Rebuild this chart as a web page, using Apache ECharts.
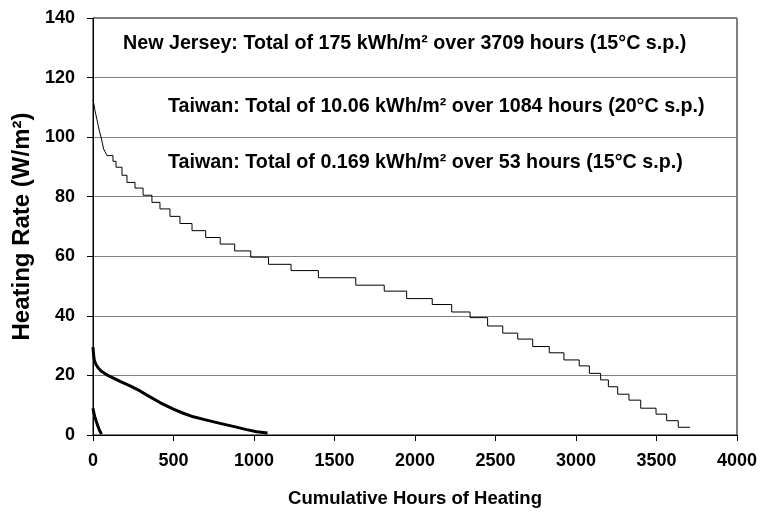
<!DOCTYPE html>
<html>
<head>
<meta charset="utf-8">
<script src="https://cdn.jsdelivr.net/npm/echarts@6/dist/echarts.min.js"></script>
<style>
html,body{margin:0;padding:0;background:#fff;}
#chart{width:763px;height:513px;}
</style>
</head>
<body>
<div id="chart"></div>
<script>
// Data (hours, heating rate W/m²)
var newJersey = [
  [0,112.5],[6,111],[12,109],[18,107.5],[24,106],[32,104],[40,102],[50,100],[58,98],[66,96],[76,95],
  [87,93.8],[124,91.9],[143,89.9],[180,87.2],[211,84.8],[261,82.9],[311,80.5],[366,78.1],[416,75.9],
  [478,73.4],[540,71],[615,68.6],[700,66.3],[790,64.1],[880,61.8],[980,59.7],[1090,57.3],[1230,55.2],
  [1400,52.8],[1632,50.3],[1809,48.3],[1948,45.8],[2107,43.8],[2228,41.3],[2342,39.4],[2451,36.6],
  [2545,34.2],[2638,32.2],[2731,29.7],[2834,27.6],[2925,25.2],[3020,23.2],[3083,20.7],[3153,18.5],
  [3201,16.2],[3259,13.7],[3329,11.7],[3402,9.0],[3497,7.0],[3563,4.8],[3635,2.6],[3709,2.6]
];
var taiwan20 = [
  [0,29.5],[3,27.5],[7,25.5],[12,24.5],[20,23.5],[33,22.5],[50,21.5],[64,21],[95,19.9],[130,19.0],
  [168,18.0],[230,16.5],[292,14.8],[354,12.8],[416,10.9],[499,8.7],[561,7.3],[623,6.1],[706,5.0],
  [789,3.9],[871,2.9],[954,1.8],[1017,1.1],[1084,0.65]
];
var taiwan15 = [[0,9],[5,7.5],[12,6],[20,4.6],[30,3],[40,1.6],[53,0.3]];

var annotations = [
  'New Jersey: Total of 175 kWh/m² over 3709 hours (15°C s.p.)',
  'Taiwan: Total of 10.06 kWh/m² over 1084 hours (20°C s.p.)',
  'Taiwan: Total of 0.169 kWh/m² over 53 hours (15°C s.p.)'
];
var xName = 'Cumulative Hours of Heating';
var yName = 'Heating Rate (W/m²)';

var FONT = '"Liberation Sans", Arial, sans-serif';
var chart = echarts.init(document.getElementById('chart'), null, {renderer:'canvas'});
var annotPos = [[123,43.5],[168,107],[168,162.5]];
var option = {
  animation:false,
  backgroundColor:'#fff',
  grid:{left:93,right:26,top:18,bottom:77,show:true,borderColor:'#000',borderWidth:1,backgroundColor:'transparent'},
  xAxis:{
    type:'value',min:0,max:4000,interval:500,
    name:xName,nameLocation:'middle',nameGap:54,
    nameTextStyle:{fontFamily:FONT,fontWeight:'bold',fontSize:18.5,color:'#000'},
    axisLine:{show:true,lineStyle:{color:'#000',width:1}},
    axisTick:{show:true,inside:false,length:6,lineStyle:{color:'#000'}},
    axisLabel:{fontFamily:FONT,fontWeight:'bold',fontSize:18,color:'#000',margin:17,
      formatter:function(v){return String(v);}},
    splitLine:{show:false}
  },
  yAxis:{
    type:'value',min:0,max:140,interval:20,
    name:yName,nameLocation:'middle',nameGap:58,
    nameTextStyle:{fontFamily:FONT,fontWeight:'bold',fontSize:24,color:'#000'},
    axisLine:{show:true,lineStyle:{color:'#000',width:1}},
    axisTick:{show:true,inside:false,length:6,lineStyle:{color:'#000'}},
    axisLabel:{fontFamily:FONT,fontWeight:'bold',fontSize:18,color:'#000',margin:18},
    splitLine:{show:true,lineStyle:{color:'#808080',width:1}}
  },
  series:[
    {type:'line',name:'New Jersey',data:newJersey,step:'end',symbol:'none',
     lineStyle:{color:'#000',width:1},z:3},
    {type:'line',name:'Taiwan 20C',data:taiwan20,symbol:'none',
     lineStyle:{color:'#000',width:3},z:3},
    {type:'line',name:'Taiwan 15C',data:taiwan15,symbol:'none',
     lineStyle:{color:'#000',width:3},z:3}
  ],
  graphic: annotations.map(function(t,i){
    return {type:'text',x:annotPos[i][0],y:annotPos[i][1],z:10,
      style:{text:t,font:'bold 19.7px '+FONT,fill:'#000',verticalAlign:'middle'}};
  })
};
chart.setOption(option);
</script>
</body>
</html>
